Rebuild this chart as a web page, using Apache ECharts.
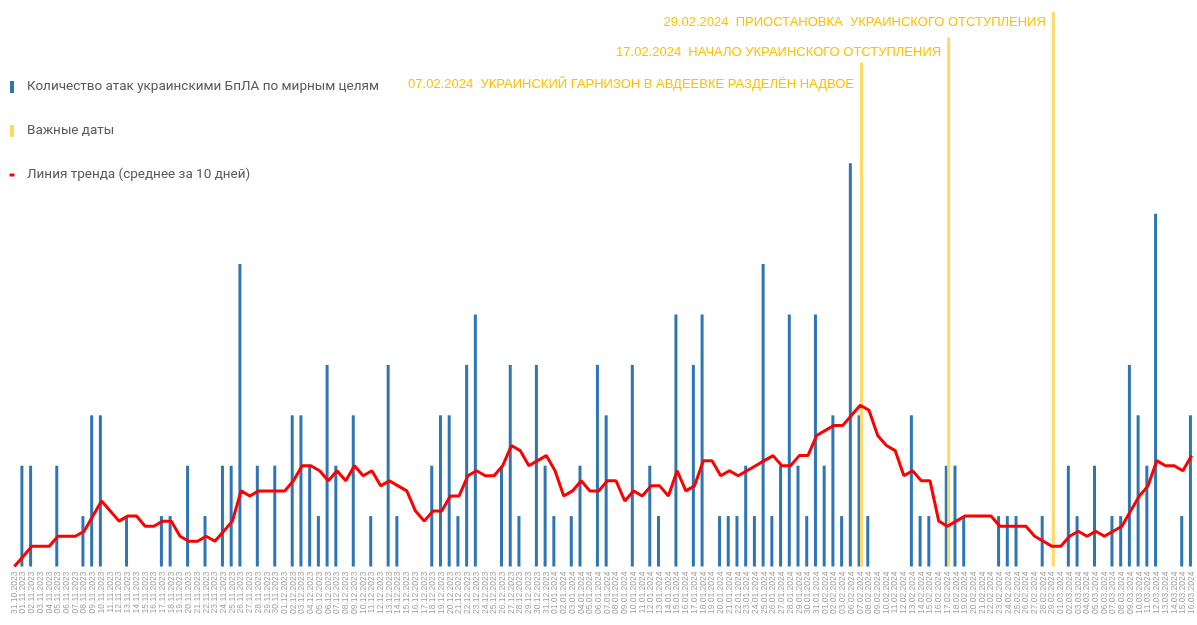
<!DOCTYPE html>
<html>
<head>
<meta charset="utf-8">
<script src="https://cdn.jsdelivr.net/npm/echarts@6/dist/echarts.min.js"></script>
<style>
  html, body { margin: 0; padding: 0; background: #ffffff; }
  #chart { width: 1197px; height: 625px; }
</style>
</head>
<body>
<div id="chart"></div>
<script>
const categories = [
  '31.10.2023',
  '01.11.2023','02.11.2023','03.11.2023','04.11.2023','05.11.2023','06.11.2023','07.11.2023','08.11.2023','09.11.2023','10.11.2023',
  '11.11.2023','12.11.2023','13.11.2023','14.11.2023','15.11.2023','16.11.2023','17.11.2023','18.11.2023','19.11.2023','20.11.2023',
  '21.11.2023','22.11.2023','23.11.2023','24.11.2023','25.11.2023','26.11.2023','27.11.2023','28.11.2023','29.11.2023','30.11.2023',
  '01.12.2023','02.12.2023','03.12.2023','04.12.2023','05.12.2023','06.12.2023','07.12.2023','08.12.2023','09.12.2023','10.12.2023',
  '11.12.2023','12.12.2023','13.12.2023','14.12.2023','15.12.2023','16.12.2023','17.12.2023','18.12.2023','19.12.2023','20.12.2023',
  '21.12.2023','22.12.2023','23.12.2023','24.12.2023','25.12.2023','26.12.2023','27.12.2023','28.12.2023','29.12.2023','30.12.2023','31.12.2023',
  '01.01.2024','02.01.2024','03.01.2024','04.01.2024','05.01.2024','06.01.2024','07.01.2024','08.01.2024','09.01.2024','10.01.2024',
  '11.01.2024','12.01.2024','13.01.2024','14.01.2024','15.01.2024','16.01.2024','17.01.2024','18.01.2024','19.01.2024','20.01.2024',
  '21.01.2024','22.01.2024','23.01.2024','24.01.2024','25.01.2024','26.01.2024','27.01.2024','28.01.2024','29.01.2024','30.01.2024','31.01.2024',
  '01.02.2024','02.02.2024','03.02.2024','06.02.2024','07.02.2024','08.02.2024','09.02.2024','10.02.2024',
  '11.02.2024','12.02.2024','13.02.2024','14.02.2024','15.02.2024','16.02.2024','17.02.2024','18.02.2024','19.02.2024','20.02.2024',
  '21.02.2024','22.02.2024','23.02.2024','24.02.2024','25.02.2024','26.02.2024','27.02.2024','28.02.2024','29.02.2024',
  '01.03.2024','02.03.2024','03.03.2024','04.03.2024','05.03.2024','06.03.2024','07.03.2024','08.03.2024','09.03.2024','10.03.2024',
  '11.03.2024','12.03.2024','13.03.2024','14.03.2024','15.03.2024','16.03.2024'
];

const attacks = [
  0,2,2,0,0,2,0,0,1,3,
  3,0,0,1,0,0,0,1,1,0,
  2,0,1,0,2,2,6,0,2,0,
  2,0,3,3,2,1,4,2,0,3,
  0,1,0,4,1,0,0,0,2,3,
  3,1,4,5,0,0,2,4,1,0,
  4,2,1,0,1,2,0,4,3,0,
  0,4,0,2,1,0,5,0,4,5,
  0,1,1,1,2,1,6,1,2,5,
  2,1,5,2,3,1,8,3,1,0,
  0,0,0,3,1,1,0,2,2,1,
  0,0,0,1,1,1,0,0,1,0,
  0,2,1,0,2,0,1,1,4,3,
  2,7,0,0,1,3
];

const trend = [
  0,0.2,0.4,0.4,0.4,0.6,0.6,0.6,0.7,1.0,
  1.3,1.1,0.9,1.0,1.0,0.8,0.8,0.9,0.9,0.6,
  0.5,0.5,0.6,0.5,0.7,0.9,1.5,1.4,1.5,1.5,
  1.5,1.5,1.7,2.0,2.0,1.9,1.7,1.9,1.7,2.0,
  1.8,1.9,1.6,1.7,1.6,1.5,1.1,0.9,1.1,1.1,
  1.4,1.4,1.8,1.9,1.8,1.8,2.0,2.4,2.3,2.0,
  2.1,2.2,1.9,1.4,1.5,1.7,1.5,1.5,1.7,1.7,
  1.3,1.5,1.4,1.6,1.6,1.4,1.9,1.5,1.6,2.1,
  2.1,1.8,1.9,1.8,1.9,2.0,2.1,2.2,2.0,2.0,
  2.2,2.2,2.6,2.7,2.8,2.8,3.0,3.2,3.1,2.6,
  2.4,2.3,1.8,1.9,1.7,1.7,0.9,0.8,0.9,1.0,
  1.0,1.0,1.0,0.8,0.8,0.8,0.8,0.6,0.5,0.4,
  0.4,0.6,0.7,0.6,0.7,0.6,0.7,0.8,1.1,1.4,
  1.6,2.1,2.0,2.0,1.9,2.2
];

const importantDates = ['07.02.2024', '17.02.2024', '29.02.2024'];
const importantHeights = [10, 10.5, 11];
const importantTexts = [
  '07.02.2024  УКРАИНСКИЙ ГАРНИЗОН В АВДЕЕВКЕ РАЗДЕЛЁН НАДВОЕ',
  '17.02.2024  НАЧАЛО УКРАИНСКОГО ОТСТУПЛЕНИЯ',
  '29.02.2024  ПРИОСТАНОВКА  УКРАИНСКОГО ОТСТУПЛЕНИЯ'
];

const seriesNames = [
  'Количество атак украинскими БпЛА по мирным целям',
  'Важные даты',
  'Линия тренда (среднее за 10 дней)'
];

// styling (label offsets per annotation)
const labelDy = [22, 15, 10];

const importantData = categories.map(() => '-');
importantDates.forEach((d, k) => {
  const idx = categories.indexOf(d);
  importantData[idx] = {
    value: importantHeights[k],
    label: {
      show: true,
      formatter: importantTexts[k],
      position: [-6, labelDy[k]],
      align: 'right',
      verticalAlign: 'middle'
    }
  };
});

const FONT = '"Liberation Sans Narrow", "Liberation Sans", sans-serif';

const chart = echarts.init(document.getElementById('chart'), null, { renderer: 'canvas' });
chart.setOption({
  animation: false,
  backgroundColor: '#ffffff',
  grid: { left: 10, right: 1, top: 12.1, bottom: 58.5, containLabel: false },
  legend: {
    orient: 'vertical',
    left: 4.5,
    top: 74,
    itemWidth: 5,
    itemHeight: 12,
    itemGap: 28,
    symbolKeepAspect: true,
    textStyle: { color: '#595959', fontSize: 13.5, fontFamily: 'Roboto, sans-serif', padding: [0, 0, 0, 7.5], lineHeight: 16 },
    data: [
      { name: seriesNames[0], icon: 'path://M0,0 L4,0 L4,12 L0,12 Z', itemStyle: { color: '#2E75B6' } },
      { name: seriesNames[1], icon: 'path://M0,0 L4,0 L4,12 L0,12 Z', itemStyle: { color: '#FFD966' } },
      { name: seriesNames[2], icon: 'path://M0,0 L5,0 L5,3 L0,3 Z', itemStyle: { color: '#FF0000' } }
    ]
  },
  xAxis: {
    type: 'category',
    data: categories,
    boundaryGap: true,
    axisLine: { show: false },
    axisTick: { show: false },
    axisLabel: {
      interval: 0,
      rotate: 90,
      fontSize: 8.5,
      margin: 5,
      color: '#a3a3a3',
      fontFamily: FONT
    }
  },
  yAxis: {
    type: 'value',
    min: 0,
    max: 11,
    show: false,
    splitLine: { show: false }
  },
  series: [
    {
      name: seriesNames[0],
      type: 'bar',
      data: attacks,
      barWidth: 3,
      barGap: '-20%',
      itemStyle: { color: '#2E75B6' },
      z: 2
    },
    {
      name: seriesNames[1],
      type: 'bar',
      data: importantData,
      barWidth: 3,
      itemStyle: { color: '#FFD966' },
      label: {
        color: '#FFC000',
        fontSize: 13,
        fontFamily: FONT
      },
      z: 3
    },
    {
      name: seriesNames[2],
      type: 'line',
      data: trend,
      symbol: 'none',
      lineStyle: { color: '#FF0000', width: 3 },
      itemStyle: { color: '#FF0000' },
      z: 5
    }
  ]
});
</script>
</body>
</html>
